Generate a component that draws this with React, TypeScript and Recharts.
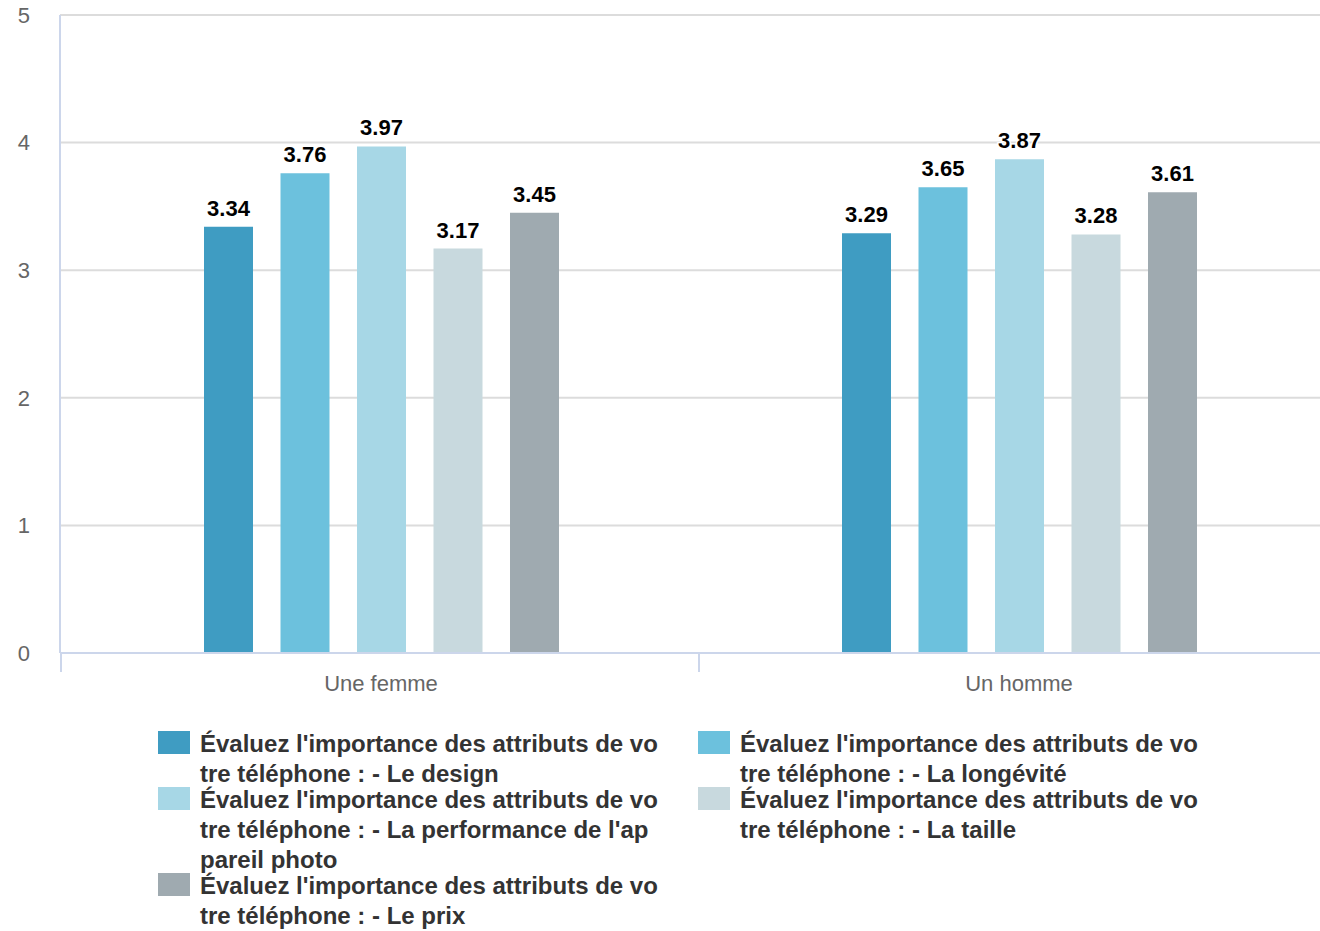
import { BarChart, Bar, XAxis, YAxis, CartesianGrid, LabelList } from 'recharts';

const categories = ['Une femme', 'Un homme'];
const seriesNames = [
  "Évaluez l'importance des attributs de votre téléphone : - Le design",
  "Évaluez l'importance des attributs de votre téléphone : - La longévité",
  "Évaluez l'importance des attributs de votre téléphone : - La performance de l'appareil photo",
  "Évaluez l'importance des attributs de votre téléphone : - La taille",
  "Évaluez l'importance des attributs de votre téléphone : - Le prix",
];
const design = [3.34, 3.29];
const longevite = [3.76, 3.65];
const photo = [3.97, 3.87];
const taille = [3.17, 3.28];
const prix = [3.45, 3.61];
const yTicks = [0, 1, 2, 3, 4, 5];

const colors = ['#3f9cc2', '#6cc1dd', '#a7d7e6', '#c8d9de', '#9faab0'];
const keys = ['design', 'longevite', 'photo', 'taille', 'prix'];
const series = [design, longevite, photo, taille, prix];

const data = categories.map((name, i) => {
  const row: Record<string, string | number> = { name };
  keys.forEach((k, s) => {
    row[k] = series[s][i];
  });
  return row;
});

const font = '"Liberation Sans", Arial, Helvetica, sans-serif';
const padLeft = 2;

// the source wraps legend text every 40 characters
function chunk(text: string, size: number) {
  const out: string[] = [];
  for (let i = 0; i < text.length; i += size) out.push(text.slice(i, i + size));
  return out;
}

function ValueLabel(props: any) {
  const { x, y, width, value } = props;
  return (
    <text
      x={x + width / 2}
      y={y - 11}
      textAnchor="middle"
      fontFamily={font}
      fontSize={22}
      fontWeight="bold"
      fill="#000"
      stroke="#fff"
      strokeWidth={3}
      paintOrder="stroke"
    >
      {value}
    </text>
  );
}

function CategoryTick(props: any) {
  const { x, y, payload, width } = props;
  const half = (width - padLeft) / categories.length / 2;
  return (
    <g>
      <line x1={x - half - 1} x2={x - half - 1} y1={y - 8} y2={y + 11} stroke="#ccd6eb" strokeWidth={2} />
      <line x1={x + half - 1} x2={x + half - 1} y1={y - 8} y2={y + 11} stroke="#ccd6eb" strokeWidth={2} />
      <text x={x} y={y + 30} textAnchor="middle" fontFamily={font} fontSize={22} fill="#666">
        {payload.value}
      </text>
    </g>
  );
}

export default function App() {
  return (
    <div
      style={{
        position: 'absolute',
        left: 0,
        top: 0,
        width: 1320,
        height: 931,
        overflow: 'hidden',
        background: '#fff',
        fontFamily: font,
      }}
    >
      <BarChart
        width={1338}
        height={700}
        data={data}
        margin={{ top: 15, right: 0, left: 0, bottom: 0 }}
        barSize={49}
        barGap={27.5}
      >
        <CartesianGrid vertical={false} stroke="#dcdcdc" strokeWidth={2} />
        <XAxis
          dataKey="name"
          height={47}
          padding={{ left: padLeft, right: 0 }}
          axisLine={{ stroke: '#ccd6eb', strokeWidth: 2 }}
          tickLine={false}
          tick={<CategoryTick />}
          interval={0}
        />
        <YAxis
          width={60}
          domain={[0, 5]}
          ticks={yTicks}
          axisLine={{ stroke: '#ccd6eb', strokeWidth: 2 }}
          tickLine={false}
          tickMargin={24}
          tick={{ fontSize: 22, fill: '#666', fontFamily: font }}
        />
        {keys.map((k, s) => (
          <Bar key={k} dataKey={k} fill={colors[s]} isAnimationActive={false}>
            <LabelList dataKey={k} content={<ValueLabel />} />
          </Bar>
        ))}
      </BarChart>
      <div
        style={{
          position: 'absolute',
          left: 158,
          top: 729,
          width: 1080,
          display: 'flex',
          flexWrap: 'wrap',
        }}
      >
        {seriesNames.map((name, s) => (
          <div key={name} style={{ width: 540, display: 'flex', marginBottom: -4 }}>
            <div
              style={{
                width: 32,
                height: 23,
                marginTop: 2,
                marginRight: 10,
                background: colors[s],
                flexShrink: 0,
              }}
            />
            <div
              style={{
                fontSize: 24,
                fontWeight: 'bold',
                lineHeight: '30px',
                color: '#333',
                whiteSpace: 'nowrap',
              }}
            >
              {chunk(name, 40).map((line, i) => (
                <div key={i}>{line}</div>
              ))}
            </div>
          </div>
        ))}
      </div>
    </div>
  );
}
